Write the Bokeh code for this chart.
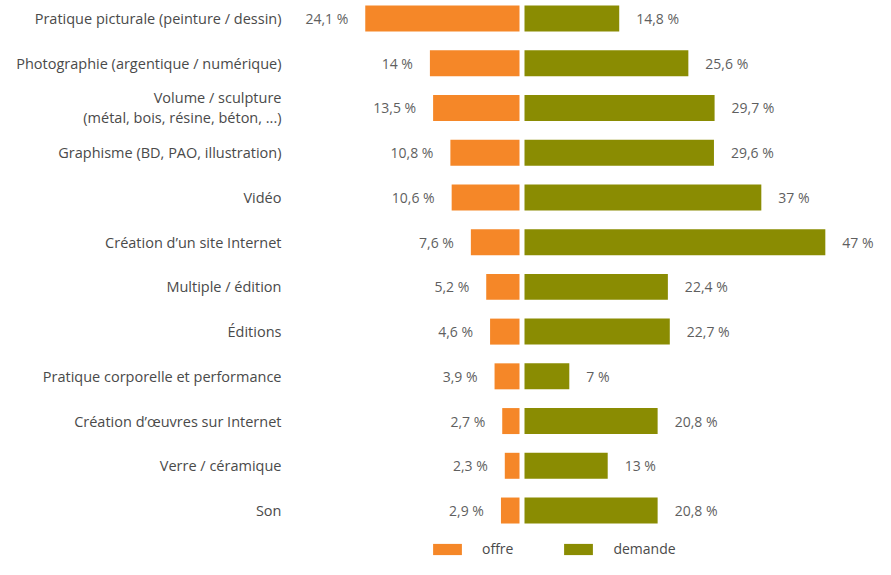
from bokeh.plotting import figure
from bokeh.models import ColumnDataSource, Range1d, Legend, LegendItem
from bokeh.core.properties import value
from bokeh.embed import file_html
from bokeh.resources import INLINE

categories = [
    "Pratique picturale (peinture / dessin)",
    "Photographie (argentique / numérique)",
    "Volume / sculpture\n(métal, bois, résine, béton, ...)",
    "Graphisme (BD, PAO, illustration)",
    "Vidéo",
    "Création d\u2019un site Internet",
    "Multiple / édition",
    "Éditions",
    "Pratique corporelle et performance",
    "Création d\u2019\u0153uvres sur Internet",
    "Verre / céramique",
    "Son",
]
offre = [24.1, 14, 13.5, 10.8, 10.6, 7.6, 5.2, 4.6, 3.9, 2.7, 2.3, 2.9]
demande = [14.8, 25.6, 29.7, 29.6, 37, 47, 22.4, 22.7, 7, 20.8, 13, 20.8]

ORANGE = "#F58728"
OLIVE = "#8A8C02"
FONT = "Open Sans"
GAP = 0.39       # half gap between the two bars, in % units
LABEL_X = -37.58 # right edge of category labels, in % units

def fmt(v):
    return f"{v:g}".replace(".", ",") + " %"

rows = list(range(len(categories)))
src = ColumnDataSource(dict(
    y=rows,
    cat=categories,
    o_left=[-GAP - v for v in offre],
    o_right=[-GAP] * len(offre),
    d_left=[GAP] * len(demande),
    d_right=[GAP + v for v in demande],
    o_lab=[fmt(v) for v in offre],
    d_lab=[fmt(v) for v in demande],
    lab_x=[LABEL_X] * len(categories),
))

p = figure(width=875, height=559,
           x_range=Range1d(-81.48, 55.23),
           y_range=Range1d(12.095, -0.4024),
           output_backend="svg", toolbar_location=None, min_border=0)
p.axis.visible = False
p.grid.visible = False
p.outline_line_color = None
p.background_fill_color = "white"
p.border_fill_color = "white"

r_o = p.hbar(y="y", left="o_left", right="o_right", height=0.581,
             fill_color=ORANGE, line_color=None, source=src)
r_d = p.hbar(y="y", left="d_left", right="d_right", height=0.581,
             fill_color=OLIVE, line_color=None, source=src)

p.text(x="o_left", y="y", text="o_lab", x_offset=-17, source=src,
       text_align="right", text_baseline="middle",
       text_font=value(FONT), text_font_size="14px", text_color="#5f5f5f")
p.text(x="d_right", y="y", text="d_lab", x_offset=17, source=src,
       text_align="left", text_baseline="middle",
       text_font=value(FONT), text_font_size="14px", text_color="#5f5f5f")
p.text(x="lab_x", y="y", text="cat", source=src,
       text_align="right", text_baseline="middle", text_line_height=1.05,
       text_font=value(FONT), text_font_size="14.5px", text_color="#4a4a4a")

legend = Legend(items=[LegendItem(label="offre", renderers=[r_o]),
                       LegendItem(label="demande", renderers=[r_d])],
                orientation="horizontal", location=(429, 1),
                glyph_width=36, glyph_height=14, label_standoff=17,
                label_height=14, spacing=47, padding=0, margin=0,
                border_line_color=None, background_fill_alpha=0,
                label_text_font=FONT, label_text_font_size="14px",
                label_text_color="#4a4a4a")
p.add_layout(legend)

open("out.html", "w").write(file_html(p, INLINE))
